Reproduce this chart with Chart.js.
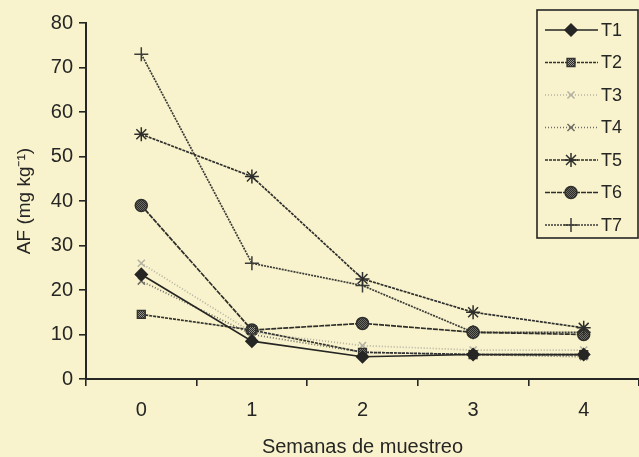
<!DOCTYPE html>
<html>
<head>
<meta charset="utf-8">
<script src="https://cdn.jsdelivr.net/npm/chart.js@4"></script>
<style>
  html, body { margin: 0; padding: 0; background: #f8f3cc; }
  #wrap { width: 639px; height: 457px; }
</style>
</head>
<body>
<div id="wrap"><canvas id="myChart" width="639" height="457"></canvas></div>
<script>
// semanas de muestreo
const weeks = ['0', '1', '2', '3', '4'];
const yTicks = [0, 10, 20, 30, 40, 50, 60, 70, 80];

// AF (mg kg-1) por tratamiento
const t1 = [23.5, 8.5, 5.0, 5.5, 5.5];
const t2 = [14.5, 11.0, 6.0, 5.5, 5.5];
const t3 = [26.0, 10.5, 7.5, 6.5, 6.5];
const t4 = [22.0, 10.0, 6.0, 5.5, 5.0];
const t5 = [55.0, 45.5, 22.5, 15.0, 11.5];
const t6 = [39.0, 11.0, 12.5, 10.5, 10.0];
const t7 = [73.0, 26.0, 21.0, 10.5, 10.5];

const ink = '#262624';
const font = '"Liberation Sans", Arial, sans-serif';

// relleno a cuadritos para los marcadores "tramados"
function checker(dark, light) {
  const c = document.createElement('canvas');
  c.width = 2; c.height = 2;
  const g = c.getContext('2d');
  g.fillStyle = light; g.fillRect(0, 0, 2, 2);
  g.fillStyle = dark; g.fillRect(0, 0, 1, 1); g.fillRect(1, 1, 1, 1);
  return g.createPattern(c, 'repeat');
}
const ctx = document.getElementById('myChart').getContext('2d');
const chk2 = checker('#2a2a28', '#9a9890');
const chk6 = checker('#2a2a28', '#6e6c66');

function serie(label, data, color, dash, pointStyle, fill, radius) {
  return {
    label: label,
    data: data,
    borderColor: color,
    borderWidth: 1.7,
    borderDash: dash,
    pointStyle: pointStyle,
    pointRadius: radius,
    pointBackgroundColor: fill,
    pointBorderColor: color,
    pointBorderWidth: 1.5,
    tension: 0
  };
}

const datasets = [
  serie('T1', t1, ink, [], 'rectRot', ink, 6),
  serie('T2', t2, '#333331', [3, 1], 'rect', chk2, 5.5),
  serie('T3', t3, '#b4b1a2', [1, 2], 'crossRot', '#b4b1a2', 5),
  serie('T4', t4, '#6f6d65', [1, 2], 'crossRot', '#6f6d65', 5),
  serie('T5', t5, '#2e2e2c', [3, 1], 'star', '#2e2e2c', 7),
  serie('T6', t6, '#2e2e2c', [5, 1], 'circle', chk6, 6),
  serie('T7', t7, '#3c3c38', [2, 1], 'cross', '#3c3c38', 7)
];

// leyenda con caja, como en el original
const boxLegend = {
  id: 'boxLegend',
  afterDraw(chart) {
    const c = chart.ctx;
    const x0 = 537, y0 = 10, w = 101, h = 228;
    c.save();
    c.fillStyle = '#f8f3cc';
    c.fillRect(x0, y0, w, h);
    c.strokeStyle = ink;
    c.lineWidth = 1.6;
    c.strokeRect(x0, y0, w, h);
    chart.data.datasets.forEach((ds, i) => {
      const y = y0 + 20 + i * 32.5;
      c.beginPath();
      c.strokeStyle = ds.borderColor;
      c.lineWidth = ds.borderWidth;
      c.setLineDash(ds.borderDash);
      c.moveTo(545, y);
      c.lineTo(598, y);
      c.stroke();
      c.setLineDash([]);
      c.fillStyle = ds.pointBackgroundColor;
      c.strokeStyle = ds.pointBorderColor;
      c.lineWidth = ds.pointBorderWidth;
      Chart.helpers.drawPoint(c, { pointStyle: ds.pointStyle, radius: ds.pointRadius, rotation: 0, borderWidth: ds.pointBorderWidth }, 571, y);
      c.fillStyle = ink;
      c.font = '18px ' + font;
      c.textBaseline = 'middle';
      c.textAlign = 'left';
      c.fillText(ds.label, 601, y + 1);
    });
    c.restore();
  }
};

const myChart = new Chart(ctx, {
  type: 'line',
  data: { labels: weeks, datasets: datasets },
  plugins: [boxLegend],
  options: {
    responsive: false,
    animation: false,
    layout: { autoPadding: false, padding: { top: 23, right: 0, left: 0, bottom: 0 } },
    plugins: {
      legend: { display: false },
      tooltip: { enabled: false }
    },
    scales: {
      x: {
        type: 'category',
        offset: true,
        afterFit(scale) {
          scale.height = 78;
          scale.paddingLeft = 0;
          scale.paddingRight = 0;
        },
        grid: {
          offset: true,
          drawOnChartArea: false,
          drawTicks: true,
          tickLength: 7,
          color: ink,
          lineWidth: 1.6
        },
        border: { color: ink, width: 2 },
        ticks: {
          color: ink,
          padding: 12,
          font: { family: font, size: 20 }
        },
        title: {
          display: true,
          text: 'Semanas de muestreo',
          color: ink,
          padding: 0,
          font: { family: font, size: 20, lineHeight: 1 }
        }
      },
      y: {
        min: 0,
        max: 80,
        afterFit(scale) { scale.width = 86; },
        afterBuildTicks(scale) { scale.ticks = yTicks.map(v => ({ value: v })); },
        grid: {
          drawOnChartArea: false,
          drawTicks: true,
          tickLength: 7,
          color: ink,
          lineWidth: 1.6
        },
        border: { color: ink, width: 2 },
        ticks: {
          color: ink,
          padding: 6,
          font: { family: font, size: 20 }
        },
        title: {
          display: true,
          text: 'AF (mg kg⁻¹)',
          color: ink,
          padding: 15,
          font: { family: font, size: 19, lineHeight: 1 }
        }
      }
    }
  }
});
</script>
</body>
</html>
